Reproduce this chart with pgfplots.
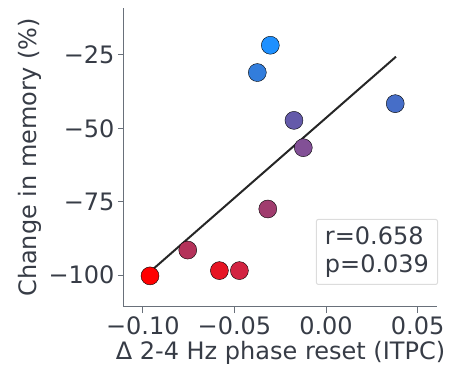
\documentclass[border=0pt]{standalone}
\usepackage{pgfplots}
\pgfplotsset{compat=1.18}
\usepackage{fontspec}
\setmainfont{DejaVu Sans}
\usetikzlibrary{calc}
\definecolor{textcol}{RGB}{55,60,70}
\definecolor{spinecol}{RGB}{105,112,122}
\definecolor{linecol}{RGB}{38,38,38}
\definecolor{boxcol}{RGB}{220,220,220}
\definecolor{c1}{RGB}{255,0,0}
\definecolor{c2}{RGB}{180,50,90}
\definecolor{c3}{RGB}{230,20,35}
\definecolor{c4}{RGB}{210,35,65}
\definecolor{c5}{RGB}{160,60,110}
\definecolor{c6}{RGB}{50,125,220}
\definecolor{c7}{RGB}{30,144,255}
\definecolor{c8}{RGB}{100,90,170}
\definecolor{c9}{RGB}{130,80,150}
\definecolor{c10}{RGB}{70,110,200}
\begin{document}
\begin{tikzpicture}
\begin{axis}[
  scale only axis, width=313pt, height=299pt,
  xmin=-0.1103, xmax=0.0606, ymin=-110.9, ymax=-9,
  axis x line*=bottom, axis y line*=left,
  axis line style={-, spinecol, line width=1pt},
  xtick={-0.1,-0.05,0,0.05}, xticklabels={−0.10,−0.05,0.00,0.05},
  ytick={-100,-75,-50,-25}, yticklabels={−100,−75,−50,−25},
  tick align=outside, major tick length=6pt,
  tick style={spinecol, line width=1pt},
  ticklabel style={font=\fontsize{24}{28}\selectfont, text=textcol},
  label style={font=\fontsize{24}{28}\selectfont, text=textcol},
  xlabel={Δ 2-4 Hz phase reset (ITPC)},
  ylabel={Change in memory (\%)},
  clip=false,
  every axis plot/.append style={only marks, mark=*, mark size=9pt, mark options={draw=black, line width=1pt}},
]
\coordinate (O) at (rel axis cs:0,0);
\addplot[mark options={fill=c1}] coordinates {(-0.0961,-100.3)};
\addplot[mark options={fill=c2}] coordinates {(-0.0755,-91.5)};
\addplot[mark options={fill=c3}] coordinates {(-0.0582,-98.5)};
\addplot[mark options={fill=c4}] coordinates {(-0.0473,-98.5)};
\addplot[mark options={fill=c5}] coordinates {(-0.0318,-77.5)};
\addplot[mark options={fill=c6}] coordinates {(-0.0375,-31.0)};
\addplot[mark options={fill=c7}] coordinates {(-0.0304,-21.7)};
\addplot[mark options={fill=c8}] coordinates {(-0.0175,-47.3)};
\addplot[mark options={fill=c9}] coordinates {(-0.0124,-56.6)};
\addplot[mark options={fill=c10}] coordinates {(0.0378,-41.6)};
\addplot[sharp plot, no markers, line width=2pt, color=linecol] coordinates {(-0.0961,-98.9) (0.0382,-25.6)};
\node[draw=boxcol, line width=1pt, fill=white, rounded corners=2pt, anchor=south east, align=left,
  font=\fontsize{24}{28.3}\selectfont, text=textcol, inner xsep=8.5pt, inner ysep=7pt,
  xshift=1pt, yshift=22pt] at (rel axis cs:1,0) {r=0.658\\p=0.039};
\end{axis}
\pgfresetboundingbox
\path ($(O)+(-124pt,-72pt)$) rectangle ($(O)+(330pt,307pt)$);
\end{tikzpicture}
\end{document}
